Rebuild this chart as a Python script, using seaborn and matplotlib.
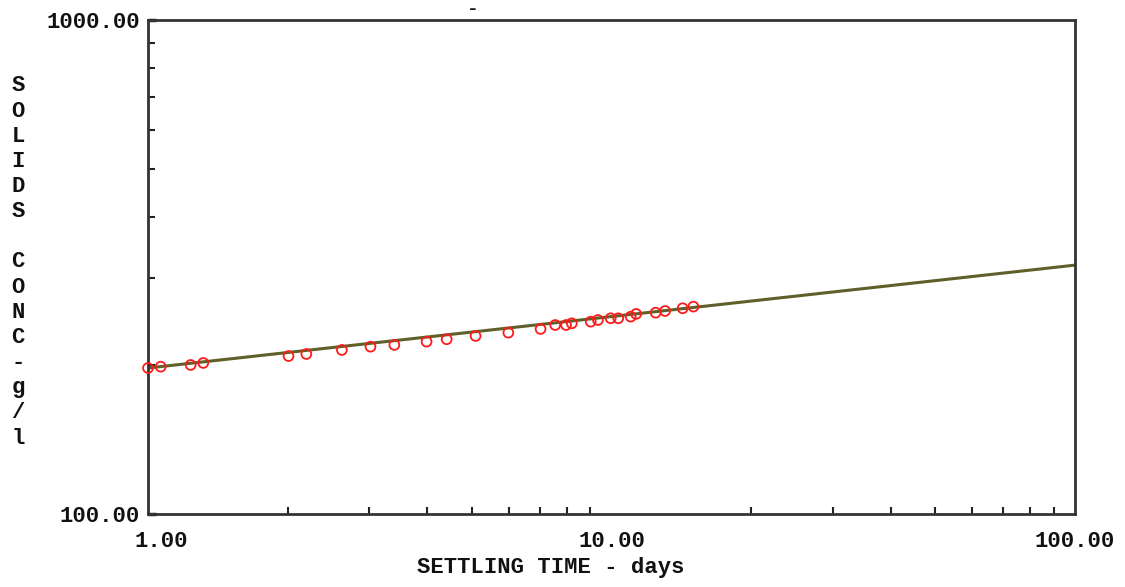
import numpy as np
import pandas as pd
import matplotlib
matplotlib.use("Agg")
import matplotlib.pyplot as plt
import matplotlib.transforms as mtransforms
import seaborn as sns
from matplotlib.ticker import FixedLocator, FixedFormatter, NullFormatter

# Measured settling data: time (days) and solids concentration (g/l)
settling_days = [1.00, 1.065, 1.236, 1.316, 2.01, 2.196, 2.62, 3.02, 3.40, 3.99,
                 4.41, 5.09, 5.99, 7.03, 7.56, 7.98, 8.21, 9.02, 9.35, 9.96,
                 10.34, 11.0, 11.3, 12.45, 13.05, 14.24, 15.02]
solids_conc = [197.5, 198.7, 200.3, 202.2, 208.8, 210.8, 214.8, 218.1, 219.9, 223.3,
               225.8, 229.3, 232.8, 236.9, 241.3, 241.3, 243.2, 245.1, 247.0, 249.0,
               249.0, 250.9, 254.1, 255.6, 257.6, 260.9, 262.9]

# Fitted power-law line, endpoints across the plotted range
fit_days = [1.0, 100.0]
fit_conc = [197.5, 319.0]

x_ticks = [1, 10, 100]
x_tick_labels = ["1.00", "10.00", "100.00"]
y_ticks = [100, 1000]
y_tick_labels = ["100.00", "1000.00"]

x_label = "SETTLING TIME - days"
y_label = "SOLIDS CONC-g/l"

sns.set_theme(style="white")
plt.rcParams["font.family"] = ["Liberation Mono", "DejaVu Sans Mono"]

fig = plt.figure(figsize=(11.25, 5.87), dpi=100)
ax = fig.add_axes([148 / 1125, 1 - 514 / 587, 927 / 1125, 494 / 587])

fit_df = pd.DataFrame({"t": fit_days, "c": fit_conc})
obs_df = pd.DataFrame({"t": settling_days, "c": solids_conc})

ax.set_xscale("log")
ax.set_yscale("log")

sns.lineplot(data=fit_df, x="t", y="c", ax=ax, color="#5f5f2a", linewidth=2.2, zorder=2)
sns.scatterplot(data=obs_df, x="t", y="c", ax=ax, marker="o", s=50,
                facecolor="none", edgecolor="#ff1a1a", linewidth=1.3, zorder=3,
                clip_on=False)

ax.set_xlim(1, 100)
ax.set_ylim(100, 1000)

ax.xaxis.set_major_locator(FixedLocator(x_ticks))
ax.xaxis.set_major_formatter(FixedFormatter(x_tick_labels))
ax.yaxis.set_major_locator(FixedLocator(y_ticks))
ax.yaxis.set_major_formatter(FixedFormatter(y_tick_labels))
ax.xaxis.set_minor_locator(FixedLocator([2, 3, 4, 5, 6, 7, 8, 9, 20, 30, 40, 50, 60, 70, 80, 90]))
ax.yaxis.set_minor_locator(FixedLocator([200, 300, 400, 500, 600, 700, 800, 900]))
ax.xaxis.set_minor_formatter(NullFormatter())
ax.yaxis.set_minor_formatter(NullFormatter())

ax.tick_params(axis="both", which="both", direction="in", color="#222222",
               bottom=True, left=True, top=False, right=False)
ax.tick_params(axis="both", which="major", length=6, width=2.5,
               labelsize=16, labelcolor="#111111")
ax.tick_params(axis="both", which="minor", length=5, width=1.5)
ax.tick_params(axis="x", which="major", length=0, pad=12)
ax.tick_params(axis="y", which="major", pad=6)

for lbl in ax.get_xticklabels() + ax.get_yticklabels():
    lbl.set_fontweight("bold")

# Nudge the leftmost x tick label off the axis corner
first_lbl = ax.get_xticklabels()[0]
first_lbl.set_transform(first_lbl.get_transform() +
                        mtransforms.ScaledTranslation(13 / 100, 0, fig.dpi_scale_trans))

for sp in ax.spines.values():
    sp.set_color("#333333")
    sp.set_linewidth(2)
    sp.set_visible(True)

ax.set_xlabel("")
ax.set_ylabel("")

fig.text(551 / 1125, 1 - 568 / 587, x_label, ha="center", va="center",
         fontsize=16, fontweight="bold", color="#111111")

# Stacked vertical axis title, one character per line
fig.text(18 / 1125, 1 - 262 / 587, "\n".join(y_label), ha="center", va="center",
         fontsize=16, fontweight="bold", color="#111111", linespacing=1.26)

fig.text(473 / 1125, 1 - 10 / 587, "-", ha="center", va="center",
         fontsize=14, fontweight="bold", color="#111111")

fig.savefig("out.png", dpi=100, facecolor="white")
